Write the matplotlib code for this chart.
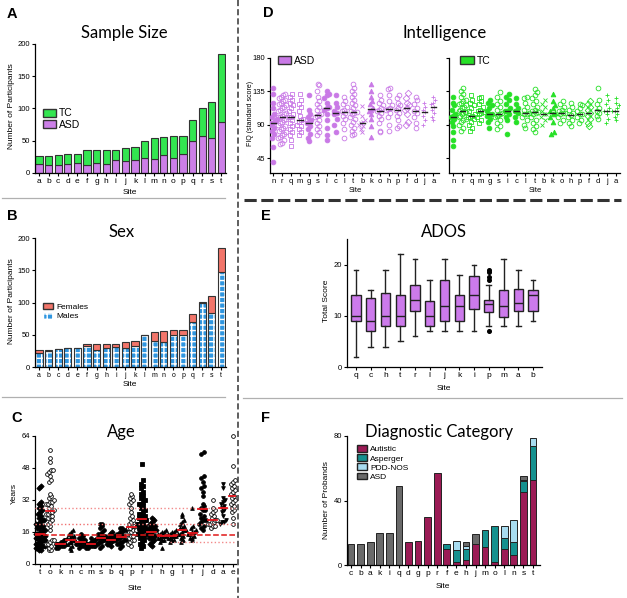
import numpy as np
import matplotlib
matplotlib.use("Agg")
import matplotlib.pyplot as plt
from matplotlib.patches import Patch

plt.rcParams['font.family'] = ['Liberation Sans', 'DejaVu Sans']
plt.rcParams['hatch.linewidth'] = 1.0

W, H = 627, 598
VIOLET = '#cc7fe8'
GREEN = '#33e650'
EDGE = '#333333'

# ---------------- data ----------------
# A: sample size
size_sites = list('abcdefghijklmnopqrst')
size_asd = [14, 13, 13, 14, 15, 13, 15, 14, 20, 19, 20, 24, 22, 28, 24, 30, 49, 58, 55, 79]
size_tc = [13, 14, 15, 15, 15, 22, 20, 22, 16, 19, 20, 25, 33, 28, 33, 27, 33, 43, 55, 105]

# B: sex
sex_males = [21, 25, 28, 29, 30, 33, 27, 29, 31, 30, 32, 49, 41, 39, 50, 49, 70, 100, 83, 147]
sex_females = [6, 2, 0, 0, 0, 2, 8, 7, 5, 8, 8, 0, 14, 17, 7, 8, 12, 1, 27, 37]

# C: age per site
age_sites = ['t', 'o', 'k', 'n', 'c', 'm', 's', 'b', 'q', 'p', 'r', 'i', 'h', 'g', 'l', 'f', 'j', 'd', 'a', 'e']
age_values = [
    [7, 7, 8, 8, 8, 9, 9, 9, 10, 10, 10, 11, 11, 11, 12, 12, 12, 13, 13, 13, 14, 14, 14, 15, 15,
     15, 16, 16, 17, 17, 18, 18, 19, 19, 20, 20, 21, 22, 22, 23, 24, 25, 26, 27, 28, 29, 30, 31, 38, 39],
    [7, 7, 8, 9, 10, 10, 11, 12, 12, 17, 19, 20, 21, 22, 23, 24, 24, 25, 25, 26, 26, 27, 28, 29, 30,
     30, 31, 31, 32, 33, 34, 35, 41, 42, 44, 45, 46, 47, 47, 51, 53, 57],
    [8, 8, 9, 9, 9, 10, 10, 10, 10, 11, 11, 12, 12],
    [7, 8, 9, 10, 10, 11, 11, 12, 12, 13, 13, 14, 14, 15, 16, 17],
    [8, 9, 9, 10, 10, 10, 11, 11, 11, 12, 12, 13, 13, 14, 15],
    [8, 8, 9, 9, 9, 9, 10, 10, 10, 10, 10, 11, 11, 11, 12, 12, 13],
    [8, 9, 10, 10, 11, 11, 12, 12, 12, 13, 13, 13, 14, 14, 15, 15, 16, 17, 18, 19, 20, 20],
    [9, 10, 10, 11, 11, 12, 12, 12, 13, 13, 13, 14, 14, 15, 16],
    [8, 9, 10, 10, 11, 11, 12, 12, 13, 13, 14, 14, 15, 15, 16, 16, 17, 17, 18, 18],
    [9, 10, 11, 12, 12, 13, 14, 14, 15, 16, 16, 17, 17, 18, 18, 19, 19, 20, 21, 22, 23, 24, 26, 28,
     30, 31, 32, 33, 34, 35],
    [8, 9, 10, 11, 12, 13, 14, 14, 15, 16, 16, 17, 17, 18, 18, 19, 19, 20, 20, 21, 21, 22, 22, 23,
     23, 24, 24, 25, 25, 26, 27, 28, 29, 30, 30, 31, 32, 33, 34, 35, 36, 38, 39, 40, 42, 50],
    [9, 10, 11, 12, 13, 13, 14, 14, 15, 15, 16, 16, 17, 17, 17, 18, 18, 19, 19, 20, 21, 22, 23],
    [8, 11, 12, 12, 13, 13, 14, 14, 14, 15, 15, 16, 16, 17],
    [11, 12, 12, 13, 13, 14, 14, 14, 15, 15, 16, 16, 17],
    [11, 12, 13, 14, 15, 15, 16, 17, 17, 18, 18, 19, 20, 21, 22, 24, 25],
    [12, 13, 13, 14, 15, 15, 16, 16, 17, 18, 19, 28],
    [17, 18, 19, 20, 21, 22, 22, 23, 24, 25, 27, 27, 28, 29, 30, 34, 36, 38, 39, 41, 43, 44, 55, 56],
    [18, 19, 19, 20, 20, 21, 21, 22, 22, 23, 24, 25, 26, 27, 28, 32],
    [20, 21, 21, 22, 24, 26, 27, 28, 29, 30, 31, 32, 33, 38, 40],
    [20, 23, 26, 27, 28, 29, 30, 31, 32, 33, 34, 35, 36, 37, 38, 39, 40, 41, 42, 49, 64],
]
age_markers = ['D', 'o', 'o', '^', 'o', 'o', 'o', 'D', 'o', 'o', 's', 'D', '^', '^', '^', '^', 'o', 'o', 'v', 'o']
age_filled = [1, 0, 1, 1, 1, 1, 1, 1, 1, 0, 1, 1, 1, 1, 1, 1, 1, 0, 1, 0]
age_refs = [28.2, 20.0, 14.3, 11.2]

# D: full-scale IQ per site
iq_sites = ['n', 'r', 'q', 'm', 'g', 's', 'i', 'c', 'l', 't', 'b', 'k', 'o', 'h', 'p', 'f', 'd', 'j', 'a']
iq_asd = [
    [40, 60, 72, 78, 82, 86, 90, 92, 93, 95, 98, 100, 105, 112, 120, 132, 140],
    [64, 66, 70, 72, 74, 76, 78, 80, 82, 84, 86, 88, 90, 92, 94, 96, 98, 100, 100, 102, 104, 106, 108,
     110, 112, 114, 116, 118, 120, 122, 124, 126, 128, 130, 132],
    [62, 70, 76, 80, 84, 88, 92, 96, 100, 100, 104, 108, 112, 116, 120, 124, 128, 132],
    [76, 80, 84, 88, 90, 94, 96, 98, 102, 108, 114, 118, 124, 132],
    [68, 72, 78, 84, 88, 92, 94, 96, 100, 104, 110, 130],
    [76, 80, 84, 88, 92, 96, 100, 102, 103, 104, 110, 114, 118, 122, 128, 135, 143, 145],
    [70, 76, 86, 96, 104, 110, 112, 114, 120, 126, 130, 132, 135],
    [80, 90, 98, 104, 106, 108, 114, 120, 130],
    [72, 84, 92, 98, 102, 106, 108, 110, 114, 118, 122, 128],
    [76, 78, 82, 86, 90, 94, 98, 100, 104, 106, 107, 108, 112, 116, 120, 124, 128, 132, 136, 140, 145],
    [80, 84, 88, 90, 92, 94, 96, 102, 115],
    [74, 88, 98, 104, 108, 110, 112, 118, 122, 128, 136, 145],
    [80, 82, 92, 98, 102, 106, 109, 110, 112, 116, 120, 124, 130],
    [82, 90, 100, 106, 110, 111, 112, 116, 122, 130, 138, 140],
    [86, 88, 96, 102, 106, 110, 112, 116, 120, 126, 130],
    [90, 94, 104, 110, 113, 116, 120, 126, 133],
    [86, 92, 100, 106, 109, 112, 118, 124, 128],
    [90, 96, 102, 107, 110, 114, 120],
    [96, 100, 106, 110, 114, 118, 120, 124, 128],
]
iq_tc = [
    [62, 70, 80, 88, 94, 98, 101, 102, 104, 110, 116, 120, 128],
    [82, 86, 90, 94, 96, 98, 100, 102, 104, 106, 107, 107, 108, 110, 112, 114, 116, 118, 120, 122,
     124, 128, 132, 136, 140],
    [82, 86, 90, 94, 98, 100, 101, 102, 104, 108, 112, 116, 120, 124, 130],
    [92, 96, 100, 104, 106, 107, 108, 110, 114, 118, 122, 126, 128],
    [86, 94, 98, 102, 104, 105, 108, 112, 116, 120, 124],
    [84, 88, 92, 96, 100, 102, 103, 104, 106, 110, 114, 118, 122, 128, 134],
    [78, 96, 100, 104, 108, 108, 112, 118, 124, 128, 132],
    [94, 100, 106, 109, 112, 118, 126],
    [86, 90, 96, 100, 104, 105, 106, 110, 114, 120, 126, 128],
    [80, 84, 88, 92, 96, 100, 104, 106, 107, 108, 110, 114, 118, 122, 126, 130, 134, 138],
    [90, 96, 100, 104, 104, 108, 114, 118, 124],
    [78, 80, 94, 100, 104, 106, 108, 112, 116, 122, 132],
    [92, 96, 100, 104, 106, 106, 108, 110, 114, 118, 122],
    [88, 92, 96, 100, 103, 106, 110, 114, 120],
    [92, 96, 100, 104, 105, 108, 112, 116, 118],
    [88, 92, 98, 102, 106, 110, 114, 118, 122],
    [98, 102, 106, 108, 112, 118, 124, 140],
    [92, 98, 104, 108, 108, 112, 118, 124, 130],
    [96, 100, 104, 108, 108, 112, 116, 120, 126],
]
iq_markers = ['o', 'o', 's', 's', 'o', 'o', 'o', 'o', 'o', 'o', 'x', '^', 'o', 'o', 'o', 'D', 'o', '+', '+']
iq_filled = [1, 0, 0, 0, 1, 0, 1, 1, 0, 0, 0, 1, 0, 0, 0, 0, 0, 0, 0]

# E: ADOS box summaries
ados_sites = ['q', 'c', 'h', 't', 'r', 'l', 'j', 'k', 'i', 'p', 'm', 'a', 'b']
ados_low = [2, 4, 4, 5, 6, 7, 7, 7, 7, 8, 8, 8, 9]
ados_q1 = [9, 7, 8, 8, 11, 8, 9, 9, 11.3, 10.7, 9.7, 11, 11]
ados_med = [10, 9, 10, 10, 13, 10, 12, 12, 14, 12.3, 12, 12.5, 14]
ados_q3 = [14, 13.5, 14.5, 14, 16, 12.8, 17, 14, 17.8, 13, 15, 15.2, 15]
ados_high = [19, 15, 19, 22, 21, 17, 21, 18, 20, 16, 21, 19, 17]
ados_fliers = [[], [], [], [], [], [], [], [], [], [7, 17, 17.5, 18.6, 18.9], [], [], []]

# F: diagnostic category
dx_sites = ['c', 'b', 'a', 'k', 'i', 'q', 'd', 'g', 'p', 'r', 'f', 'e', 'h', 'j', 'm', 'o', 'l', 'n', 's', 't']
dx_autistic = [0, 0, 0, 0, 0, 0, 14, 15, 30, 57, 10, 2, 3, 13, 11, 2, 10, 6, 45, 53]
dx_asperger = [0, 0, 0, 0, 0, 0, 0, 0, 0, 0, 3, 7, 7, 0, 11, 22, 7, 8, 7, 21]
dx_pddnos = [0, 0, 0, 0, 0, 0, 0, 0, 0, 0, 0, 6, 2, 0, 0, 0, 7, 14, 1, 5]
dx_asd = [13, 13, 14, 20, 20, 49, 0, 0, 0, 0, 0, 0, 2, 6, 0, 0, 0, 0, 2, 0]
dx_names = ['Autistic', 'Asperger', 'PDD-NOS', 'ASD']
dx_colors = ['#9b1b55', '#15918f', '#a8dcf0', '#6a6a6a']

# ---------------- helpers ----------------
fig = plt.figure(figsize=(W / 100, H / 100), dpi=100)


def add_ax(x0, y0, x1, y1):
    # axes placed by pixel box (left, top, right, bottom)
    ax = fig.add_axes([x0 / W, 1 - y1 / H, (x1 - x0) / W, (y1 - y0) / H])
    ax.spines['top'].set_visible(False)
    ax.spines['right'].set_visible(False)
    ax.spines['left'].set_linewidth(0.9)
    ax.spines['bottom'].set_linewidth(0.9)
    ax.tick_params(length=2.2, width=0.8, pad=1.2, labelsize=5.5)
    ax.patch.set_alpha(0)
    return ax


def ftext(x, y, s, **kw):
    kw.setdefault('ha', 'center')
    kw.setdefault('va', 'center')
    fig.text(x / W, 1 - y / H, s, **kw)


def title(x, y, s):
    ftext(x, y, s, family=['Lato', 'DejaVu Sans'], fontsize=12)


def letter(x, y, s):
    ftext(x, y, s, fontsize=10.5, fontweight='bold')


def swarm(vals, step, gap, maxw):
    # spread points sideways within value bands, like a column scatter
    vals = np.asarray(vals, float)
    rows = np.floor(vals / step)
    xs = np.zeros(len(vals))
    for r in np.unique(rows):
        idx = np.where(rows == r)[0]
        offs = (np.arange(len(idx)) - (len(idx) - 1) / 2) * gap
        if len(idx) > 1 and offs.max() > maxw / 2:
            offs *= (maxw / 2) / offs.max()
        xs[idx] = offs
    return xs


def legend(ax, handles, labels, x, y, size):
    ax.legend(handles, labels, loc='upper left', bbox_to_anchor=(x, y), frameon=False,
              fontsize=size, handlelength=1.3, handleheight=0.9, labelspacing=0.1,
              handletextpad=0.3, borderpad=0, borderaxespad=0)


# ---------------- A: sample size ----------------
axA = add_ax(35, 44, 226, 173)
x = np.arange(len(size_sites))
axA.bar(x, size_asd, 0.76, color=VIOLET, edgecolor=EDGE, lw=0.8)
axA.bar(x, size_tc, 0.76, bottom=size_asd, color=GREEN, edgecolor=EDGE, lw=0.8)
axA.set_xlim(-0.42, 19.48)
axA.set_ylim(0, 200)
axA.set_yticks(range(0, 201, 50))
axA.set_xticks(x, size_sites, fontsize=6)
legend(axA, [Patch(fc=GREEN, ec=EDGE), Patch(fc=VIOLET, ec=EDGE)], ['TC', 'ASD'], 0.04, 0.5, 7.5)
title(124, 33, 'Sample Size')
letter(12, 14, 'A')
ftext(130, 193, 'Site', fontsize=6)
ftext(12, 106, 'Number of Participants', fontsize=6, rotation=90)

# ---------------- B: sex ----------------
axB = add_ax(35, 238, 226, 367)
axB.bar(x, sex_males, 0.76, color='#2f96e0', edgecolor='white', hatch='+++', lw=0)
axB.bar(x, sex_males, 0.76, fill=False, edgecolor=EDGE, lw=0.8)
axB.bar(x, sex_females, 0.76, bottom=sex_males, color='#f2756a', edgecolor=EDGE, lw=0.8)
axB.set_xlim(-0.42, 19.48)
axB.set_ylim(0, 200)
axB.set_yticks(range(0, 201, 50))
axB.set_xticks(x, size_sites, fontsize=5)
legend(axB, [Patch(fc='#f2756a', ec=EDGE), Patch(fc='#2f96e0', ec='white', hatch='+++')],
       ['Females', 'Males'], 0.04, 0.5, 6)
title(122, 232, 'Sex')
letter(12, 216, 'B')
ftext(130, 385, 'Site', fontsize=6)
ftext(12, 301, 'Number of Participants', fontsize=6, rotation=90)

# ---------------- C: age ----------------
axC = add_ax(35, 436, 236, 564)
for i, vals in enumerate(age_values):
    xs = i + swarm(vals, 2.5, 0.2, 0.9)
    fc = 'black' if age_filled[i] else 'white'
    axC.plot(xs, vals, ls='none', marker=age_markers[i], ms=2.7, mfc=fc, mec='black', mew=0.6,
             zorder=3, clip_on=False)
    med = np.median(vals)
    axC.plot([i - 0.42, i + 0.42], [med, med], color='#e8141c', lw=1.3, zorder=5)
axC.plot([-0.5, 19.3], [age_refs[0]] * 2, color='#f28a8a', ls=':', lw=1.0, zorder=4)
axC.plot([-0.5, 19.3], [age_refs[1]] * 2, color='#f07070', ls=':', lw=1.0, zorder=4)
axC.plot([-0.5, 19.3], [age_refs[2]] * 2, color='#e01818', ls='--', lw=1.1, zorder=4)
axC.plot([12.8, 19.3], [age_refs[3]] * 2, color='#f28a8a', ls=':', lw=1.0, zorder=4)
axC.set_xlim(-0.5, 19.3)
axC.set_ylim(0, 64)
axC.set_yticks(range(0, 65, 16))
axC.set_xticks(range(len(age_sites)), age_sites, fontsize=6)
title(121, 432, 'Age')
letter(17, 418, 'C')
ftext(135, 588, 'Site', fontsize=6)
ftext(14, 493, 'Years', fontsize=6, rotation=90)

# ---------------- D: intelligence ----------------
axD1 = add_ax(270, 58, 439, 173)
axD2 = add_ax(449, 58, 620, 173)
for ax, data, col in [(axD1, iq_asd, '#c979e6'), (axD2, iq_tc, '#26e026')]:
    for i, vals in enumerate(data):
        xs = i + swarm(vals, 9, 0.24, 0.85)
        fc = col if iq_filled[i] else 'none'
        ax.plot(xs, vals, ls='none', marker=iq_markers[i], ms=3.4, mfc=fc, mec=col, mew=0.6, zorder=3)
        med = np.median(vals)
        ax.plot([i - 0.3, i + 0.3], [med, med], color='#222222', lw=1.0, zorder=5)
    ax.set_ylim(25, 180)
    ax.set_yticks([45, 90, 135, 180])
    ax.set_xticks(range(len(iq_sites)), iq_sites, fontsize=5.5)
axD1.set_xlim(-0.37, 18.64)
axD2.set_xlim(-0.48, 18.48)
axD2.set_yticklabels([])
legend(axD1, [Patch(fc='#c979e6', ec=EDGE)], ['ASD'], 0.045, 1.02, 7.5)
legend(axD2, [Patch(fc='#26e026', ec=EDGE)], ['TC'], 0.065, 1.02, 7.5)
title(445, 33, 'Intelligence')
letter(268, 13, 'D')
ftext(355, 191, 'Site', fontsize=5.5)
ftext(535, 191, 'Site', fontsize=5.5)
ftext(250, 113, 'FIQ (standard score)', fontsize=5, rotation=90)

# ---------------- E: ADOS ----------------
axE = add_ax(347, 239, 542, 367)
stats = []
for i in range(len(ados_sites)):
    stats.append(dict(whislo=ados_low[i], q1=ados_q1[i], med=ados_med[i], q3=ados_q3[i],
                      whishi=ados_high[i], fliers=ados_fliers[i]))
line = dict(color='#222222', lw=1.0)
axE.bxp(stats, positions=range(len(ados_sites)), widths=0.63, capwidths=0.32, patch_artist=True,
        boxprops=dict(facecolor='#cc7aeb', edgecolor='#222222', lw=1.0),
        medianprops=line, whiskerprops=line, capprops=line,
        flierprops=dict(marker='o', mfc='black', mec='black', ms=2.6))
axE.set_xlim(-0.61, 12.61)
axE.set_ylim(0, 25)
axE.set_yticks([0, 10, 20])
axE.set_xticks(range(len(ados_sites)), ados_sites, fontsize=6)
title(444, 232, 'ADOS')
letter(266, 216, 'E')
ftext(444, 388, 'Site', fontsize=6)
ftext(326, 301, 'Total Score', fontsize=6, rotation=90)

# ---------------- F: diagnostic category ----------------
axF = add_ax(347, 436, 540, 565)
xf = np.arange(len(dx_sites))
bottom = np.zeros(len(dx_sites))
handles = []
for vals, col in zip([dx_autistic, dx_asperger, dx_pddnos, dx_asd], dx_colors):
    vals = np.array(vals, float)
    axF.bar(xf[vals > 0], vals[vals > 0], 0.7, bottom=bottom[vals > 0], color=col, edgecolor='#222222', lw=0.7)
    bottom += vals
    handles.append(Patch(fc=col, ec='#222222'))
axF.set_xlim(-0.42, 19.73)
axF.set_ylim(0, 80)
axF.set_yticks([0, 40, 80])
axF.set_xticks(xf, dx_sites, fontsize=6)
legend(axF, handles, dx_names, 0.05, 0.93, 6)
title(439, 432, 'Diagnostic Category')
letter(266, 418, 'F')
ftext(443, 586, 'Site', fontsize=6)
ftext(326, 500, 'Number of Probands', fontsize=6, rotation=90)

# ---------------- separators ----------------
sep = fig.add_axes([0, 0, 1, 1])
sep.set_xlim(0, W)
sep.set_ylim(H, 0)
sep.axis('off')
sep.patch.set_alpha(0)
sep.plot([238, 238], [0, H], color='#333333', lw=1.1, ls=(0, (4, 2)))
sep.plot([244, 621], [200, 200], color='#333333', lw=2.2, ls=(0, (4, 1.5)))
sep.plot([2, 225], [197.5, 197.5], color='#b0b0b0', lw=0.9)
sep.plot([2, 225], [397, 397], color='#b0b0b0', lw=0.9)
sep.plot([243, 622], [398, 398], color='#b0b0b0', lw=0.9)

fig.savefig('out.png', dpi=100)
